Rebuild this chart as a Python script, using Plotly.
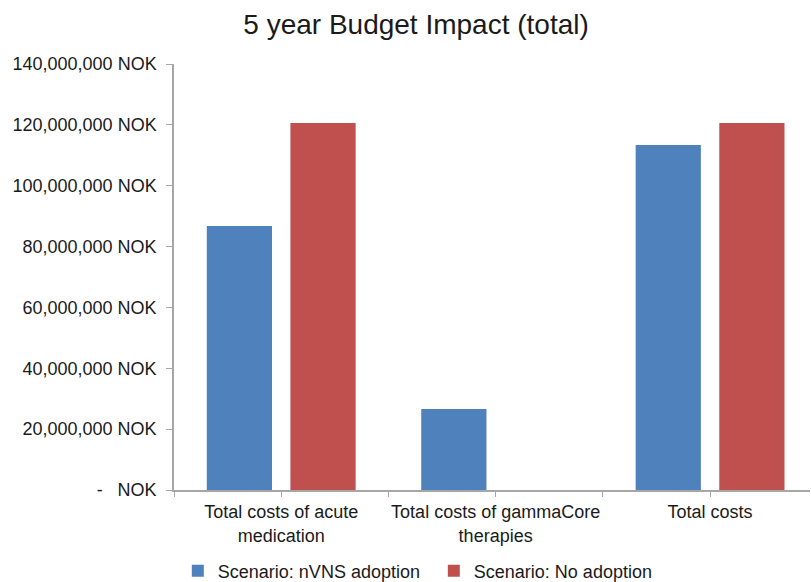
import plotly.graph_objects as go

categories = ["Total costs of acute<br>medication", "Total costs of gammaCore<br>therapies", "Total costs"]
nvns_adoption = [86800000, 26600000, 113400000]
no_adoption = [120600000, 0, 120600000]
y_ticks = [0, 20000000, 40000000, 60000000, 80000000, 100000000, 120000000, 140000000]
y_tick_labels = ["-\u00a0\u00a0\u00a0NOK"] + [f"{v:,} NOK" for v in y_ticks[1:]]

xpos = list(range(len(categories)))
FONT = "Liberation Sans, Arial, sans-serif"

fig = go.Figure()
fig.add_trace(go.Bar(x=xpos, y=nvns_adoption, name="Scenario: nVNS adoption",
                     marker=dict(color="#4F81BD", line=dict(width=0))))
fig.add_trace(go.Bar(x=xpos, y=no_adoption, name="Scenario: No adoption",
                     marker=dict(color="#C0504D", line=dict(width=0))))

xtickvals = []
xticktext = []
for i, c in enumerate(categories):
    xtickvals += [i - 0.5, i]
    xticktext += ["", c]
xtickvals.append(len(categories) - 0.5)
xticktext.append("")

fig.update_layout(
    width=811, height=582,
    margin=dict(l=174, r=1, t=64, b=92, autoexpand=False),
    paper_bgcolor="white", plot_bgcolor="white",
    font=dict(family=FONT, size=18, color="#1a1a1a"),
    title=dict(text="5 year Budget Impact (total)", x=0.513, xanchor="center",
               y=1 - 24 / 582, yanchor="middle", yref="container",
               font=dict(size=28, color="#1a1a1a", family=FONT)),
    barmode="group", bargap=0.22, bargroupgap=0.22,
    showlegend=True,
    legend=dict(orientation="h", x=0.006, xanchor="left",
                yref="container", y=1 - 571 / 582, yanchor="middle",
                font=dict(size=18), entrywidth=211, itemwidth=30,
                traceorder="normal"),
    xaxis=dict(range=[-0.5, len(categories) - 0.534], tickvals=xtickvals, ticktext=xticktext,
               ticks="outside", ticklen=5, tickcolor="#A6A6A6", tickwidth=1,
               showline=True, linecolor="#A6A6A6", linewidth=1.5, automargin=False,
               showgrid=False, zeroline=False, tickfont=dict(size=18)),
    yaxis=dict(range=[0, 140000000], tickvals=y_ticks, ticktext=y_tick_labels,
               ticks="outside", ticklen=6, tickcolor="#A6A6A6", tickwidth=1,
               showline=True, linecolor="#A6A6A6", linewidth=1.5, automargin=False,
               showgrid=False, zeroline=False, tickfont=dict(size=18), ticklabelstandoff=6),
)

fig.write_html("out.html")
